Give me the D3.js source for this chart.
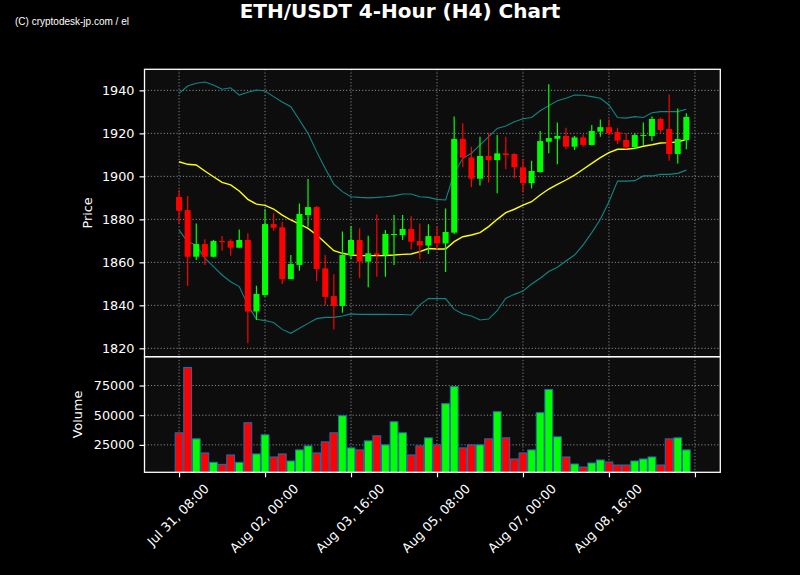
<!DOCTYPE html>
<html>
<head>
<meta charset="utf-8">
<script src="https://cdn.jsdelivr.net/npm/d3@7"></script>
<style>
  html, body { margin: 0; padding: 0; background: #000; }
  svg { display: block; }
  text { font-family: "DejaVu Sans", sans-serif; fill: #fff; }
</style>
</head>
<body>
<svg id="chart" width="800" height="575"></svg>
<script>
// ---------------- DATA ----------------
const title = "ETH/USDT 4-Hour (H4) Chart";
const copyright = "(C) cryptodesk-jp.com / el";

const opens  = [1890.4,1884.3,1862.6,1868.5,1862.6,1869.9,1869.9,1866.8,1870.4,1837.1,
                1844.8,1877.8,1876.3,1852.2,1858.8,1882.0,1885.7,1857.2,1844.3,1839.7,
                1863.4,1870.4,1860.3,1864.2,1863.4,1872.7,1872.7,1875.5,1869.9,1867.8,
                1872.2,1868.8,1873.8,1917.4,1908.8,1898.9,1909.5,1907.6,1910.7,1910.4,
                1904.2,1896.9,1902.0,1916.1,1917.5,1918.8,1913.8,1918.1,1914.6,1920.8,
                1922.9,1920.6,1916.9,1913.5,1918.9,1918.8,1926.7,1922.0,1910.4,1916.9];
const highs  = [1893.6,1890.9,1878.1,1870.7,1870.4,1872.2,1870.7,1875.3,1873.5,1849.1,
                1884.8,1882.8,1878.9,1863.4,1887.4,1898.8,1886.2,1863.4,1854.4,1874.3,
                1876.9,1875.8,1872.4,1882.3,1875.0,1882.0,1882.0,1881.6,1878.1,1877.7,
                1876.6,1885.1,1927.8,1924.7,1913.8,1918.4,1920.3,1919.2,1918.4,1910.7,
                1908.1,1907.3,1921.1,1942.8,1925.1,1922.6,1918.8,1919.5,1923.9,1926.5,
                1926.5,1922.6,1920.0,1920.0,1925.1,1927.8,1927.3,1938.1,1931.6,1929.3];
const lows   = [1878.1,1849.0,1861.1,1858.8,1862.4,1865.4,1863.1,1866.8,1822.3,1833.2,
                1844.0,1874.7,1849.9,1852.2,1856.1,1876.6,1851.3,1840.2,1828.8,1836.6,
                1861.4,1852.6,1848.4,1853.3,1853.3,1858.8,1870.4,1866.0,1861.4,1863.9,
                1866.0,1855.5,1873.2,1904.2,1894.9,1895.7,1897.1,1892.1,1903.3,1899.1,
                1892.6,1894.4,1901.7,1910.7,1905.6,1912.6,1912.3,1913.8,1914.3,1918.4,
                1919.2,1915.0,1912.6,1913.0,1914.1,1916.4,1920.0,1907.3,1906.0,1912.6];
const closes = [1884.0,1862.6,1868.5,1862.6,1869.9,1869.4,1866.8,1870.4,1837.1,1845.3,
                1877.8,1876.1,1852.2,1859.2,1882.5,1885.7,1856.9,1843.9,1839.7,1863.4,
                1870.4,1860.3,1864.2,1863.4,1873.2,1873.2,1875.5,1869.6,1867.8,1872.2,
                1868.8,1874.1,1917.4,1908.7,1898.9,1909.5,1907.6,1910.7,1909.9,1904.2,
                1896.9,1902.5,1916.4,1917.8,1918.8,1913.8,1918.1,1914.6,1921.1,1922.9,
                1920.0,1916.6,1913.5,1919.2,1919.2,1926.7,1921.6,1910.4,1917.4,1927.6];
const volumes = [35170,90260,30085,18220,10310,8615,16525,10310,43645,17370,
                 33475,14830,17370,11440,20760,24150,18220,27540,35170,49580,
                 22460,20760,28390,32630,25000,44490,35170,16525,24150,30930,
                 25000,59750,74155,22460,25000,25000,30085,52970,30930,13135,
                 18220,20760,52120,71610,31780,14830,8900,6355,9745,12290,
                 10590,8050,8050,11440,13135,14830,8050,30085,30930,20760];
// Bollinger bands (20-period SMA ± 2σ)
const bbMid = [1906.8,1905.6,1905.3,1902.5,1899.8,1897.2,1896.0,1893.2,1889.3,1887.1,
               1886.5,1884.8,1882.0,1879.7,1877.8,1875.8,1872.7,1869.1,1865.4,1864.2,
               1863.4,1863.1,1863.1,1863.1,1863.2,1863.4,1863.7,1863.9,1865.0,1866.4,
               1866.2,1866.2,1869.6,1871.9,1872.7,1873.8,1876.6,1880.0,1883.1,1884.7,
               1886.6,1888.2,1891.3,1894.1,1896.3,1898.3,1900.6,1903.3,1906.0,1908.7,
               1911.0,1912.6,1912.6,1913.0,1914.0,1914.7,1915.5,1915.7,1916.0,1917.2];
const bbUpper = [1938.6,1942.0,1943.3,1943.9,1942.5,1940.5,1941.2,1937.8,1939.1,1940.2,
                 1939.7,1937.1,1934.6,1932.4,1926.2,1920.0,1911.5,1903.7,1896.4,1892.9,
                 1890.5,1890.2,1890.0,1890.2,1890.5,1890.9,1891.8,1891.8,1890.5,1890.2,
                 1889.3,1889.0,1901.4,1908.4,1910.7,1914.6,1918.4,1922.3,1923.4,1925.4,
                 1926.8,1927.4,1930.5,1932.9,1935.2,1936.3,1937.8,1937.7,1937.1,1936.3,
                 1933.2,1927.4,1927.1,1927.8,1927.4,1929.6,1930.1,1930.1,1930.1,1931.2];
const bbLower = [1875.0,1869.6,1868.1,1861.9,1858.0,1854.1,1851.0,1848.7,1840.2,1833.5,
                 1832.9,1832.0,1828.8,1827.0,1829.3,1831.6,1833.8,1834.4,1834.4,1835.0,
                 1836.0,1835.8,1835.8,1835.8,1835.8,1835.7,1835.7,1835.5,1840.2,1843.1,
                 1843.1,1843.1,1838.1,1836.0,1835.0,1833.2,1833.6,1837.5,1843.3,1845.1,
                 1846.6,1849.9,1852.6,1855.7,1857.7,1860.6,1863.4,1868.1,1873.8,1880.0,
                 1888.2,1897.8,1897.8,1898.0,1900.2,1900.2,1900.9,1900.9,1901.4,1902.9];

const xTickIndex  = [0, 10, 20, 30, 40, 50, 60];
const xTickLabels = ["Jul 31, 08:00","Aug 02, 00:00","Aug 03, 16:00","Aug 05, 08:00","Aug 07, 00:00","Aug 08, 16:00",""];
const priceTicks  = [1820, 1840, 1860, 1880, 1900, 1920, 1940];
const volumeTicks = [25000, 50000, 75000];

// ---------------- LAYOUT ----------------
const L = 144.5, R = 720.3;
const pTop = 69.3, pBot = 356.7, vBot = 472.3;
const upColor = "#00ff00", downColor = "#ff0000";
const axBg = "#0d0d0d";
const gridColor = "#9a9a9a";

const svg = d3.select("#chart");
svg.append("rect").attr("width", 800).attr("height", 575).attr("fill", "#000");

const n = closes.length;
const data = d3.range(n).map(i => ({
  i, o: opens[i], h: highs[i], l: lows[i], c: closes[i], v: volumes[i],
  up: closes[i] >= opens[i]
}));

const x = d3.scaleLinear().domain([-4.02, 62.95]).range([L, R]);
const step = x(1) - x(0);
const y = d3.scaleLinear().domain([1816.1, 1949.8]).range([pBot, pTop]);
const vMin = 0.3 * d3.min(volumes), vMax = 1.1 * d3.max(volumes);
const yv = d3.scaleLinear().domain([vMin, vMax]).range([vBot, pBot]);

// backgrounds
svg.append("rect").attr("x", L).attr("y", pTop).attr("width", R - L).attr("height", pBot - pTop).attr("fill", axBg);
svg.append("rect").attr("x", L).attr("y", pBot).attr("width", R - L).attr("height", vBot - pBot).attr("fill", axBg);

// clip paths
const defs = svg.append("defs");
defs.append("clipPath").attr("id", "clipP").append("rect").attr("x", L).attr("y", pTop).attr("width", R - L).attr("height", pBot - pTop);
defs.append("clipPath").attr("id", "clipV").append("rect").attr("x", L).attr("y", pBot).attr("width", R - L).attr("height", vBot - pBot);

// grids
const grid = svg.append("g").attr("stroke", gridColor).attr("stroke-width", 1).attr("stroke-dasharray", "1.2,2").attr("opacity", 0.85);
priceTicks.forEach(t => grid.append("line").attr("x1", L).attr("x2", R).attr("y1", y(t)).attr("y2", y(t)));
volumeTicks.forEach(t => grid.append("line").attr("x1", L).attr("x2", R).attr("y1", yv(t)).attr("y2", yv(t)));
xTickIndex.forEach(t => {
  grid.append("line").attr("x1", x(t)).attr("x2", x(t)).attr("y1", pTop).attr("y2", pBot);
  grid.append("line").attr("x1", x(t)).attr("x2", x(t)).attr("y1", pBot).attr("y2", vBot);
});

// Bollinger bands
const gP = svg.append("g").attr("clip-path", "url(#clipP)");
const lineOf = arr => d3.line().x((d, i) => x(i)).y(d => y(d))(arr);
gP.append("path").attr("d", lineOf(bbUpper)).attr("fill", "none").attr("stroke", "#118585").attr("stroke-width", 1.1);
gP.append("path").attr("d", lineOf(bbLower)).attr("fill", "none").attr("stroke", "#118585").attr("stroke-width", 1.1);
gP.append("path").attr("d", lineOf(bbMid)).attr("fill", "none").attr("stroke", "#ffff00").attr("stroke-width", 1.4);

// candles
const bodyW = step * 0.7;
const cg = gP.selectAll("g.candle").data(data).enter().append("g");
cg.append("line")
  .attr("x1", d => x(d.i)).attr("x2", d => x(d.i))
  .attr("y1", d => y(d.h)).attr("y2", d => y(d.l))
  .attr("stroke", d => d.up ? upColor : downColor).attr("stroke-width", 1.2);
cg.append("rect")
  .attr("x", d => x(d.i) - bodyW / 2).attr("width", bodyW)
  .attr("y", d => y(Math.max(d.o, d.c)))
  .attr("height", d => Math.max(1, Math.abs(y(d.o) - y(d.c))))
  .attr("fill", d => d.up ? upColor : downColor);

// volume bars
const gV = svg.append("g").attr("clip-path", "url(#clipV)");
gV.selectAll("rect").data(data).enter().append("rect")
  .attr("x", d => x(d.i) - step / 2 + 0.4).attr("width", step - 0.8)
  .attr("y", d => yv(d.v)).attr("height", d => vBot - yv(d.v) + 2)
  .attr("fill", d => d.up ? upColor : downColor)
  .attr("stroke", "#1f6fb0").attr("stroke-width", 1);

// spines
const sp = svg.append("g").attr("fill", "none").attr("stroke", "#fff").attr("stroke-width", 1.3);
sp.append("rect").attr("x", L).attr("y", pTop).attr("width", R - L).attr("height", pBot - pTop);
sp.append("rect").attr("x", L).attr("y", pBot).attr("width", R - L).attr("height", vBot - pBot);

// axes
const fs = 12.8;
const yAxisP = d3.axisLeft(y).tickValues(priceTicks).tickSize(5).tickPadding(5).tickFormat(d3.format("d"));
const gyp = svg.append("g").attr("transform", `translate(${L},0)`).call(yAxisP);
const yAxisV = d3.axisLeft(yv).tickValues(volumeTicks).tickSize(5).tickPadding(5).tickFormat(d3.format("d"));
const gyv = svg.append("g").attr("transform", `translate(${L},0)`).call(yAxisV);
const xAxis = d3.axisBottom(x).tickValues(xTickIndex).tickSize(5).tickFormat("");
const gx = svg.append("g").attr("transform", `translate(0,${vBot})`).call(xAxis);
[gyp, gyv, gx].forEach(g => {
  g.select(".domain").remove();
  g.selectAll(".tick line").attr("stroke", "#fff").attr("stroke-width", 1.2);
  g.selectAll(".tick text").attr("fill", "#fff").style("font-size", fs + "px").style("font-family", "DejaVu Sans");
});

// rotated x tick labels, bbox centered on tick
const xl = svg.append("g");
xTickIndex.forEach((t, k) => {
  const lab = xTickLabels[k];
  if (!lab) return;
  const txt = xl.append("text").text(lab).style("font-size", fs + "px")
    .attr("text-anchor", "middle").attr("dominant-baseline", "central");
  const len = txt.node().getComputedTextLength();
  const h = fs * 1.0;
  const cy = vBot + 9.5 + (len + h) * 0.7071 / 2;
  txt.attr("transform", `translate(${x(t) - 1},${cy}) rotate(-45)`);
});

// axis labels
svg.append("text").text("Price").style("font-size", fs + "px")
  .attr("text-anchor", "middle")
  .attr("transform", `translate(92,${(pTop + pBot) / 2}) rotate(-90)`);
svg.append("text").text("Volume").style("font-size", fs + "px")
  .attr("text-anchor", "middle")
  .attr("transform", `translate(82,${(pBot + vBot) / 2}) rotate(-90)`);

// title & copyright
svg.append("text").text(title).attr("x", 400).attr("y", 17.5)
  .attr("text-anchor", "middle").style("font-size", "20px").style("font-weight", "bold");
svg.append("text").text(copyright).attr("x", 15).attr("y", 24.5)
  .style("font-family", "'Liberation Sans', Arial, sans-serif").style("font-size", "10px");
</script>
</body>
</html>
